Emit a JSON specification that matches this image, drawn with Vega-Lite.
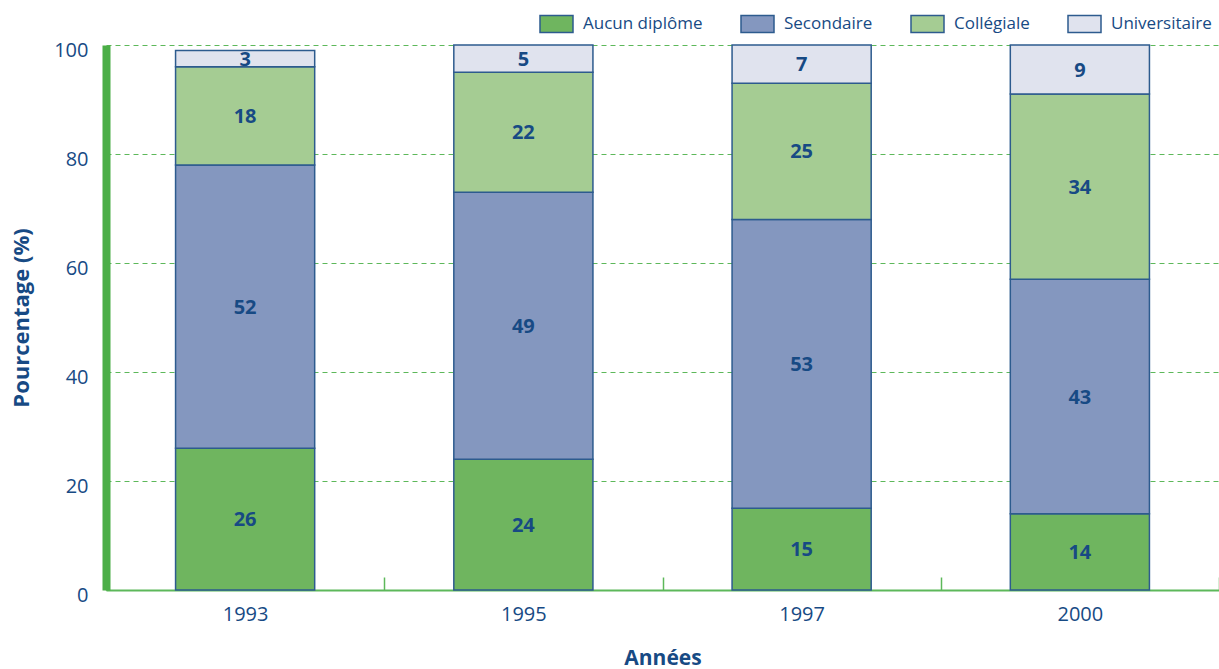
{
  "$schema": "https://vega.github.io/schema/vega-lite/v6.json",
  "width": 1113,
  "height": 545,
  "autosize": {"type": "none"},
  "padding": {"left": 106, "top": 45, "right": 0, "bottom": 79},
  "background": "white",
  "config": {"view": {"stroke": null}, "font": "Open Sans"},
  "data": {
    "values": [
      {"annee": "1993", "niveau": "Aucun diplôme", "ordre": 1, "valeur": 26},
      {"annee": "1993", "niveau": "Secondaire", "ordre": 2, "valeur": 52},
      {"annee": "1993", "niveau": "Collégiale", "ordre": 3, "valeur": 18},
      {"annee": "1993", "niveau": "Universitaire", "ordre": 4, "valeur": 3},
      {"annee": "1995", "niveau": "Aucun diplôme", "ordre": 1, "valeur": 24},
      {"annee": "1995", "niveau": "Secondaire", "ordre": 2, "valeur": 49},
      {"annee": "1995", "niveau": "Collégiale", "ordre": 3, "valeur": 22},
      {"annee": "1995", "niveau": "Universitaire", "ordre": 4, "valeur": 5},
      {"annee": "1997", "niveau": "Aucun diplôme", "ordre": 1, "valeur": 15},
      {"annee": "1997", "niveau": "Secondaire", "ordre": 2, "valeur": 53},
      {"annee": "1997", "niveau": "Collégiale", "ordre": 3, "valeur": 25},
      {"annee": "1997", "niveau": "Universitaire", "ordre": 4, "valeur": 7},
      {"annee": "2000", "niveau": "Aucun diplôme", "ordre": 1, "valeur": 14},
      {"annee": "2000", "niveau": "Secondaire", "ordre": 2, "valeur": 43},
      {"annee": "2000", "niveau": "Collégiale", "ordre": 3, "valeur": 34},
      {"annee": "2000", "niveau": "Universitaire", "ordre": 4, "valeur": 9}
    ]
  },
  "transform": [
    {"stack": "valeur", "groupby": ["annee"], "sort": [{"field": "ordre", "order": "ascending"}], "as": ["y0", "y1"]},
    {"calculate": "(datum.y0 + datum.y1) / 2", "as": "ymid"}
  ],
  "encoding": {
    "x": {
      "field": "annee",
      "type": "nominal",
      "scale": {"paddingInner": 0, "paddingOuter": 0},
      "axis": {
        "title": "Années",
        "titleFontSize": 21,
        "titleFontWeight": "bold",
        "titleColor": "#174A84",
        "titlePadding": 23,
        "labelAngle": 0,
        "labelFontSize": 20,
        "labelColor": "#174A84",
        "labelPadding": 27,
        "domainColor": "#5DB85A",
        "domainWidth": 2,
        "tickBand": "extent",
        "tickColor": "#5DB85A",
        "tickWidth": 1.5,
        "tickSize": -13
      }
    }
  },
  "layer": [
    {
      "mark": {"type": "bar", "width": {"band": 0.5}, "stroke": "#2D5B8E", "strokeWidth": 1.5},
      "encoding": {
        "y": {
          "field": "y0",
          "type": "quantitative",
          "scale": {"domain": [0, 100]},
          "axis": {
            "title": "Pourcentage (%)",
            "titleFontSize": 22,
            "titleFontWeight": "bold",
            "titleColor": "#174A84",
            "titlePadding": 20,
            "values": [0, 20, 40, 60, 80, 100],
            "labelFontSize": 20,
            "labelColor": "#174A84",
            "labelPadding": 18,
            "labelOffset": 5,
            "ticks": false,
            "domainColor": "#4BAE47",
            "domainWidth": 8,
            "grid": true,
            "gridColor": "#5DB85A",
            "gridDash": [5, 4],
            "gridWidth": 1
          }
        },
        "y2": {"field": "y1"},
        "color": {
          "field": "niveau",
          "type": "nominal",
          "sort": ["Aucun diplôme", "Secondaire", "Collégiale", "Universitaire"],
          "scale": {
            "domain": ["Aucun diplôme", "Secondaire", "Collégiale", "Universitaire"],
            "range": ["#6FB55F", "#8497BF", "#A5CC93", "#E0E3EE"]
          },
          "legend": {
            "title": null,
            "orient": "none",
            "direction": "horizontal",
            "legendX": 433,
            "legendY": -39,
            "symbolType": "M-1,-0.52H1V0.52H-1Z",
            "symbolSize": 1089,
            "symbolStrokeColor": "#2D5B8E",
            "symbolStrokeWidth": 1.5,
            "symbolOpacity": 1,
            "labelFontSize": 17,
            "labelColor": "#174A84",
            "labelOffset": 9,
            "columnPadding": 35
          }
        }
      }
    },
    {
      "mark": {"type": "text", "fontWeight": "bold", "fontSize": 20, "color": "#174A84", "dy": 1},
      "encoding": {
        "y": {"field": "ymid", "type": "quantitative"},
        "text": {"field": "valeur", "type": "quantitative"}
      }
    }
  ]
}
